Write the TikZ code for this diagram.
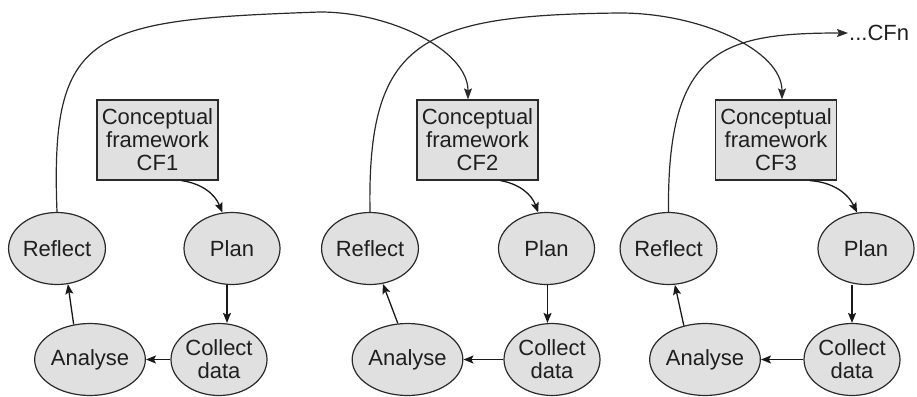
\documentclass[tikz,border=0pt]{standalone}
\usepackage{fontspec}
\setmainfont{Liberation Sans}
\usetikzlibrary{arrows.meta,shapes.geometric,calc}
\definecolor{fillgray}{HTML}{E0E0E0}
\definecolor{linegray}{HTML}{2A2A2A}
\begin{document}
\begin{tikzpicture}[x=1pt,y=-1pt,
  txt/.style={font=\fontsize{22}{23}\selectfont, text=black!88},
  cfbox/.style={draw=linegray, line width=1.2pt, fill=fillgray, minimum width=121pt, minimum height=80pt, inner sep=0pt, align=center, txt},
  stage/.style={ellipse, draw=linegray, line width=1.2pt, fill=fillgray, minimum width=96pt, minimum height=72pt, inner sep=0pt, align=center, txt},
  arr/.style={-{Stealth[length=10pt,width=8pt,inset=2pt]}, line width=1.3pt, draw=black!90},
  loopline/.style={-{Stealth[length=11pt,width=8pt,inset=2pt]}, line width=1.2pt, draw=linegray}]
\useasboundingbox (0,0) rectangle (917,396);

% conceptual frameworks
\node[cfbox] (cf1) at (157.5,140) {Conceptual\\framework\\CF1};
\node[cfbox] (cf2) at (477.5,140) {Conceptual\\framework\\CF2};
\node[cfbox] (cf3) at (776,140) {Conceptual\\framework\\CF3};

% block 1
\node[stage] (r1) at (57,248.5) {Reflect};
\node[stage] (p1) at (232,248.5) {Plan};
\node[stage] (c1) at (219,359.5) {Collect\\data};
\node[stage] (a1) at (90,359.5) {Analyse};
% block 2
\node[stage] (r2) at (370,248.5) {Reflect};
\node[stage] (p2) at (546.5,248.5) {Plan};
\node[stage] (c2) at (552,359.5) {Collect\\data};
\node[stage] (a2) at (407.5,359.5) {Analyse};
% block 3
\node[stage] (r3) at (668.5,248.5) {Reflect};
\node[stage] (p3) at (866,248.5) {Plan};
\node[stage] (c3) at (852,359.5) {Collect\\data};
\node[stage] (a3) at (705,359.5) {Analyse};

\node[txt, anchor=west, inner sep=1pt] (cfn) at (848,33) {...CFn};

% framework -> plan
\draw[arr] ([xshift=24pt]cf1.south) to[bend left=30] (p1.105);
\draw[arr] ([xshift=23pt]cf2.south) to[bend left=30] (p2.103);
\draw[arr] ([xshift=34pt]cf3.south) to[bend left=30] (p3.104);

% plan -> collect
\draw[arr] ([xshift=-5pt]p1.south) -- ([xshift=-5pt]p1.south |- c1.north);
\draw[arr] ([xshift=1pt]p2.south) -- ([xshift=1pt]p2.south |- c2.north);
\draw[arr] ([xshift=-14pt]p3.south) -- ([xshift=-14pt]p3.south |- c3.north);

% collect -> analyse
\draw[arr] (c1.west) -- (a1.east);
\draw[arr] (c2.west) -- (a2.east);
\draw[arr] (c3.west) -- (a3.east);

% analyse -> reflect
\draw[arr] (a1.115) -- (r1.-73);
\draw[arr] (a2.105) -- (r2.-70);
\draw[arr] (a3.122) -- (r3.-80);

% reflect -> next framework
\draw[loopline] (r1.north) .. controls (50,30) and (90,20) .. (320,12)
  .. controls (390,12) and (468,50) .. ([xshift=-9.5pt]cf2.north);
\draw[loopline] (r2.north) .. controls (367,40) and (420,15) .. (620,13)
  .. controls (700,13) and (782,50) .. ([xshift=6pt]cf3.north);
\draw[loopline] (r3.north) .. controls (667,50) and (720,33) .. (cfn.west);
\end{tikzpicture}
\end{document}
